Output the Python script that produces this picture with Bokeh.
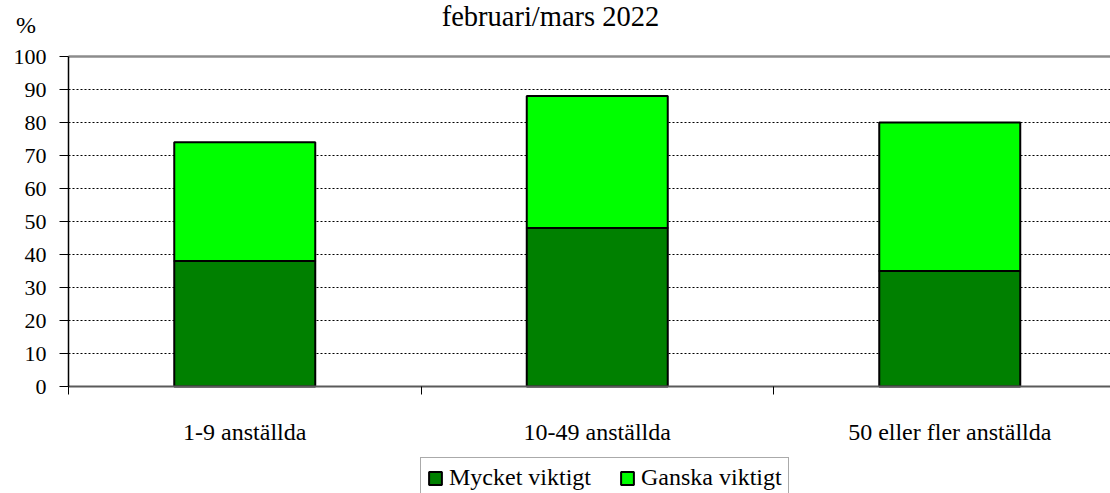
from bokeh.plotting import figure
from bokeh.models import (Range1d, FixedTicker, ColumnDataSource, Legend, LegendItem, Label)
from bokeh.embed import file_html
from bokeh.resources import INLINE

categories = ["1-9 anställda", "10-49 anställda", "50 eller fler anställda"]
mycket = [38, 48, 35]
ganska = [36, 40, 45]
series_names = ["Mycket viktigt", "Ganska viktigt"]
colors = ["#008000", "#00FF00"]
y_ticks = [0, 10, 20, 30, 40, 50, 60, 70, 80, 90, 100]
title_text = "februari/mars 2022"
unit_text = "%"

FONT = "Liberation Serif"
W, H = 1110, 493
X0, Y0, Y100 = 68, 386, 56          # pixel positions of the chart area
PX_PER_CAT = 352.5
PX_PER_UNIT = (Y0 - Y100) / 100.0

ncat = len(categories)
xpos = [i + 0.5 for i in range(ncat)]
source = ColumnDataSource(dict(x=xpos, m=mycket, g=ganska))

x_range = Range1d(-X0 / PX_PER_CAT, (W - X0) / PX_PER_CAT)
y_range = Range1d(-(H - Y0) / PX_PER_UNIT, 100 + Y100 / PX_PER_UNIT)

p = figure(width=W, height=H, output_backend="svg", toolbar_location=None,
           x_range=x_range, y_range=y_range, min_border=0)
p.outline_line_color = None
p.background_fill_color = "white"
p.border_fill_color = "white"
p.grid.visible = False

# grid lines (dotted) and top line
grid_src = ColumnDataSource(dict(y=y_ticks[1:-1], x0=[0] * (len(y_ticks) - 2),
                                 x1=[ncat] * (len(y_ticks) - 2)))
p.segment(x0="x0", x1="x1", y0="y", y1="y", source=grid_src, line_color="black",
          line_width=1, line_dash="2 2")
p.segment(x0=[0], x1=[ncat], y0=[y_ticks[-1]], y1=[y_ticks[-1]], line_color="#8c8c8c",
          line_width=2.5)

renderers = p.vbar_stack(["m", "g"], x="x", width=0.4, source=source,
                         fill_color=colors, line_color="black", line_width=2)

# x axis
xa = p.xaxis[0]
xa.fixed_location = 0
xa.bounds = (0, ncat)
xa.ticker = FixedTicker(ticks=xpos, minor_ticks=list(range(ncat + 1)))
xa.major_label_overrides = {x: c for x, c in zip(xpos, categories)}
xa.major_tick_line_color = None
xa.major_tick_out = 0
xa.major_tick_in = 0
xa.minor_tick_out = 8
xa.minor_tick_in = 0
xa.minor_tick_line_color = "black"
xa.minor_tick_line_width = 1
xa.axis_line_color = "#5a5a5a"
xa.axis_line_width = 2
xa.major_label_text_font = FONT
xa.major_label_text_font_size = "24px"
xa.major_label_text_color = "black"
xa.major_label_standoff = 24

# y axis
ya = p.yaxis[0]
ya.fixed_location = 0
ya.bounds = (0, 100)
ya.ticker = FixedTicker(ticks=y_ticks)
ya.minor_tick_line_color = None
ya.major_tick_out = 9
ya.major_tick_in = 0
ya.major_tick_line_color = "black"
ya.axis_line_color = "black"
ya.axis_line_width = 1.5
ya.major_label_text_font = FONT
ya.major_label_text_font_size = "22px"
ya.major_label_text_color = "black"
ya.major_label_standoff = 13

p.add_layout(Label(x=(550 - X0) / PX_PER_CAT, y=100 + (Y100 - 16) / PX_PER_UNIT,
                   text=title_text, text_align="center", text_baseline="alphabetic",
                   text_font=FONT, text_font_size="28.5px", text_color="black"))
p.add_layout(Label(x=(25.5 - X0) / PX_PER_CAT, y=100 + (Y100 - 24) / PX_PER_UNIT,
                   text=unit_text, text_align="center", text_baseline="alphabetic",
                   text_font=FONT, text_font_size="24px", text_color="black"))

legend = Legend(items=[LegendItem(label=n, renderers=[r]) for n, r in zip(series_names, renderers)],
                orientation="horizontal", location=(420, -5),
                label_text_font=FONT, label_text_font_size="24px", label_text_color="black",
                glyph_width=16, glyph_height=16, spacing=28, padding=6, margin=0,
                label_standoff=6, border_line_color="#555555", border_line_width=1.5,
                background_fill_color="white", background_fill_alpha=1)
p.add_layout(legend, "center")

open("out.html", "w").write(file_html(p, INLINE))
